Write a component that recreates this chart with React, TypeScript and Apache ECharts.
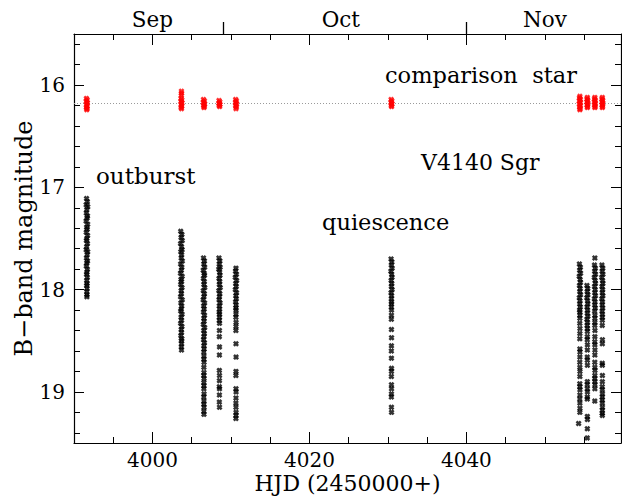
import React, { useEffect, useRef } from 'react';
import * as echarts from 'echarts';

// ---- axes ----
const X_MIN = 3990;
const X_MAX = 4059.7;
const Y_MIN = 15.5;
const Y_MAX = 19.5;
const xMajor = [4000, 4020, 4040];
const xMinor = [3995, 4005, 4010, 4015, 4025, 4030, 4035, 4045, 4050, 4055];
const yMajor = [16, 17, 18, 19];
const yMinor = [15.6, 15.8, 16.2, 16.4, 16.6, 16.8, 17.2, 17.4, 17.6, 17.8, 18.2, 18.4, 18.6, 18.8, 19.2, 19.4];
const monthNames = ['Sep', 'Oct', 'Nov'];
const monthLabelAt = [4000, 4024, 4050];
const monthBounds = [4009, 4040];
const compMag = 16.185;

// ---- V4140 Sgr, B magnitudes per night [HJD-2450000, mag] ----
const n1: number[][] = [
  [3991.60,17.11],[3991.70,17.14],[3991.55,17.17],[3991.75,17.19],[3991.63,17.22],[3991.57,17.25],[3991.72,17.28],[3991.66,17.30],[3991.54,17.33],[3991.74,17.36],[3991.61,17.39],[3991.69,17.41],[3991.56,17.44],[3991.73,17.47],[3991.64,17.50],[3991.58,17.52],[3991.71,17.55],[3991.62,17.58],[3991.55,17.61],[3991.74,17.63],[3991.67,17.66],[3991.59,17.69],[3991.72,17.72],[3991.63,17.74],[3991.57,17.77],[3991.70,17.80],[3991.65,17.83],[3991.60,17.85],[3991.69,17.88],[3991.62,17.91],[3991.67,17.94],[3991.61,17.96],[3991.66,17.99],[3991.63,18.02],[3991.65,18.05],[3991.64,18.07]
];
const n2: number[][] = [
  [4003.60,17.43],[4003.75,17.46],[4003.64,17.49],[4003.79,17.52],[4003.58,17.55],[4003.70,17.58],[4003.77,17.61],[4003.61,17.63],[4003.72,17.66],[4003.66,17.69],[4003.80,17.72],[4003.59,17.75],[4003.74,17.78],[4003.68,17.81],[4003.57,17.84],[4003.78,17.87],[4003.63,17.90],[4003.71,17.92],[4003.60,17.95],[4003.76,17.98],[4003.65,18.01],[4003.69,18.04],[4003.58,18.07],[4003.79,18.10],[4003.62,18.13],[4003.73,18.16],[4003.67,18.19],[4003.60,18.21],[4003.77,18.24],[4003.64,18.27],[4003.71,18.30],[4003.59,18.33],[4003.75,18.36],[4003.66,18.39],[4003.70,18.42],[4003.62,18.45],[4003.74,18.48],[4003.67,18.50],[4003.71,18.53],[4003.68,18.56],[4003.70,18.59]
];
const n3: number[][] = [
  [4006.50,17.69],[4006.62,17.72],[4006.54,17.75],[4006.65,17.78],[4006.47,17.81],[4006.58,17.84],[4006.63,17.86],[4006.49,17.89],[4006.60,17.92],[4006.55,17.95],[4006.66,17.98],[4006.48,18.01],[4006.61,18.04],[4006.56,18.07],[4006.46,18.10],[4006.64,18.13],[4006.52,18.16],[4006.59,18.19],[4006.50,18.22],[4006.63,18.25],[4006.55,18.28],[4006.58,18.31],[4006.48,18.34],[4006.65,18.37],[4006.53,18.40],[4006.60,18.43],[4006.56,18.46],[4006.51,18.49],[4006.62,18.52],[4006.55,18.55],[4006.58,18.58],[4006.54,18.61],
  [4006.56,18.65],[4006.55,18.68],[4006.57,18.71],[4006.55,18.76],[4006.56,18.81],[4006.54,18.84],[4006.57,18.87],[4006.55,18.91],[4006.56,18.94],[4006.55,18.97],[4006.57,19.02],[4006.54,19.05],[4006.56,19.09],[4006.55,19.12],[4006.57,19.15],[4006.55,19.19],[4006.56,19.22]
];
const n4: number[][] = [
  [4008.47,17.69],[4008.59,17.72],[4008.50,17.75],[4008.62,17.78],[4008.45,17.80],[4008.56,17.83],[4008.60,17.86],[4008.48,17.89],[4008.57,17.92],[4008.52,17.95],[4008.63,17.98],[4008.46,18.01],[4008.58,18.04],[4008.53,18.07],[4008.49,18.10],[4008.61,18.13],[4008.51,18.16],[4008.56,18.19],[4008.50,18.22],[4008.55,18.24],
  [4008.53,18.27],[4008.52,18.30],[4008.54,18.33],[4008.53,18.40],[4008.52,18.46],[4008.54,18.56],[4008.53,18.64],[4008.52,18.79],[4008.54,18.84],[4008.53,18.89],[4008.52,18.95],[4008.54,18.97],[4008.53,19.03],[4008.52,19.10],[4008.54,19.15]
];
const n5: number[][] = [
  [4010.64,17.79],
  [4010.58,17.82],[4010.70,17.85],[4010.55,17.88],[4010.72,17.91],[4010.61,17.94],[4010.67,17.97],[4010.56,18.00],[4010.71,18.03],[4010.62,18.06],[4010.68,18.09],[4010.59,18.12],[4010.66,18.15],[4010.62,18.18],[4010.65,18.20],
  [4010.64,18.24],[4010.63,18.27],[4010.65,18.32],[4010.64,18.36],[4010.63,18.40],[4010.64,18.53],[4010.65,18.66],[4010.64,18.80],[4010.63,18.84],[4010.64,18.97],[4010.65,19.00],[4010.64,19.06],[4010.63,19.11],[4010.64,19.15],[4010.65,19.20],[4010.64,19.23],[4010.63,19.26]
];
const n6: number[][] = [
  [4030.40,17.70],[4030.51,17.73],[4030.43,17.76],[4030.54,17.79],[4030.38,17.82],[4030.48,17.85],[4030.52,17.88],[4030.41,17.91],[4030.49,17.94],[4030.44,17.97],[4030.53,18.00],[4030.40,18.03],[4030.47,18.06],[4030.44,18.09],[4030.46,18.12],
  [4030.45,18.14],[4030.44,18.17],[4030.46,18.20],[4030.45,18.25],[4030.44,18.29],[4030.45,18.39],[4030.46,18.47],[4030.45,18.55],[4030.44,18.60],[4030.45,18.67],[4030.46,18.77],[4030.45,18.80],[4030.44,18.85],[4030.45,18.93],[4030.46,18.97],[4030.45,19.02],[4030.44,19.05],[4030.45,19.15],[4030.46,19.20]
];
const n7: number[][] = [
  [4054.40,17.75],[4054.52,17.78],[4054.43,17.81],[4054.55,17.84],[4054.38,17.87],[4054.49,17.90],[4054.53,17.93],[4054.41,17.96],[4054.50,17.99],[4054.45,18.02],[4054.54,18.05],[4054.39,18.08],[4054.48,18.11],[4054.44,18.14],[4054.51,18.17],[4054.42,18.20],[4054.47,18.22],[4054.46,18.25],
  [4054.46,18.28],[4054.45,18.33],[4054.47,18.38],[4054.46,18.43],[4054.45,18.48],[4054.46,18.58],[4054.47,18.61],[4054.46,18.66],[4054.45,18.71],[4054.46,18.76],[4054.47,18.80],[4054.46,18.85],[4054.45,18.92],[4054.46,18.95],[4054.47,18.98],[4054.46,19.03],[4054.45,19.07],[4054.46,19.11],[4054.47,19.16],[4054.46,19.20],[4054.30,19.31]
];
const n8: number[][] = [
  [4055.36,17.96],[4055.46,17.99],[4055.39,18.02],[4055.48,18.05],[4055.35,18.08],[4055.44,18.11],[4055.47,18.14],[4055.37,18.17],[4055.45,18.20],[4055.40,18.23],[4055.48,18.26],[4055.36,18.29],[4055.43,18.32],[4055.39,18.35],[4055.42,18.38],[4055.41,18.41],
  [4055.41,18.46],[4055.40,18.49],[4055.42,18.54],[4055.41,18.59],[4055.40,18.66],[4055.41,18.69],[4055.42,18.74],[4055.41,18.90],[4055.40,18.93],[4055.41,18.97],[4055.42,19.00],[4055.41,19.05],[4055.40,19.07],[4055.41,19.24],[4055.42,19.27],[4055.41,19.36],[4055.40,19.45]
];
const n9: number[][] = [
  [4056.37,17.69],
  [4056.32,17.76],[4056.43,17.79],[4056.34,17.82],[4056.45,17.85],[4056.30,17.88],[4056.40,17.91],[4056.44,17.94],[4056.33,17.97],[4056.41,18.00],[4056.36,18.03],[4056.44,18.06],[4056.31,18.09],[4056.39,18.12],[4056.35,18.15],[4056.42,18.18],[4056.34,18.21],[4056.38,18.25],[4056.37,18.28],
  [4056.37,18.32],[4056.36,18.35],[4056.38,18.40],[4056.37,18.46],[4056.36,18.51],[4056.37,18.54],[4056.38,18.59],[4056.37,18.64],[4056.36,18.71],[4056.37,18.76],[4056.38,18.79],[4056.37,18.84],[4056.36,18.87],[4056.37,18.90],[4056.38,18.93],[4056.37,18.97],[4056.36,19.09]
];
const n10: number[][] = [
  [4057.27,17.76],[4057.38,17.79],[4057.29,17.82],[4057.40,17.85],[4057.25,17.88],[4057.35,17.91],[4057.39,17.94],[4057.28,17.97],[4057.36,18.00],[4057.31,18.03],[4057.39,18.06],[4057.26,18.09],[4057.34,18.12],[4057.30,18.15],[4057.37,18.18],[4057.29,18.21],[4057.33,18.24],[4057.32,18.27],
  [4057.32,18.30],[4057.31,18.35],[4057.33,18.49],[4057.32,18.53],[4057.31,18.72],[4057.32,18.74],[4057.33,18.84],[4057.32,18.90],[4057.31,18.95],[4057.32,18.98],[4057.33,19.02],[4057.32,19.05],[4057.31,19.08],[4057.32,19.11],[4057.33,19.15],[4057.32,19.18],[4057.31,19.21],[4057.32,19.23]
];

// ---- comparison star per night [HJD-2450000, mag] ----
const c1: number[][] = [[3991.58,16.13],[3991.68,16.145],[3991.56,16.16],[3991.70,16.175],[3991.60,16.19],[3991.66,16.205],[3991.58,16.22],[3991.67,16.23],[3991.62,16.24]];
const c2: number[][] = [[4003.69,16.06],[4003.70,16.08],[4003.68,16.10],[4003.64,16.13],[4003.74,16.145],[4003.63,16.16],[4003.75,16.175],[4003.66,16.19],[4003.72,16.205],[4003.65,16.22],[4003.70,16.23]];
const c3: number[][] = [[4006.50,16.14],[4006.62,16.155],[4006.48,16.17],[4006.64,16.185],[4006.52,16.20],[4006.60,16.21],[4006.56,16.22]];
const c4: number[][] = [[4008.48,16.15],[4008.58,16.165],[4008.47,16.18],[4008.59,16.19],[4008.50,16.20],[4008.56,16.21]];
const c5: number[][] = [[4010.60,16.14],[4010.69,16.155],[4010.58,16.17],[4010.71,16.185],[4010.60,16.20],[4010.68,16.215],[4010.64,16.23]];
const c6: number[][] = [[4030.41,16.14],[4030.50,16.155],[4030.40,16.17],[4030.51,16.185],[4030.43,16.20],[4030.47,16.21]];
const c7: number[][] = [[4054.46,16.11],[4054.41,16.125],[4054.52,16.14],[4054.39,16.155],[4054.53,16.17],[4054.40,16.185],[4054.52,16.20],[4054.43,16.215],[4054.49,16.23],[4054.46,16.24]];
const c8: number[][] = [[4055.41,16.12],[4055.37,16.135],[4055.46,16.15],[4055.36,16.165],[4055.46,16.18],[4055.38,16.195],[4055.44,16.21],[4055.41,16.22]];
const c9: number[][] = [[4056.37,16.12],[4056.33,16.135],[4056.42,16.15],[4056.32,16.165],[4056.42,16.18],[4056.34,16.195],[4056.40,16.21],[4056.37,16.22]];
const c10: number[][] = [[4057.32,16.12],[4057.28,16.135],[4057.37,16.15],[4057.27,16.165],[4057.37,16.18],[4057.29,16.195],[4057.35,16.21],[4057.32,16.22]];

const targetNights = [n1, n2, n3, n4, n5, n6, n7, n8, n9, n10];
const compNights = [c1, c2, c3, c4, c5, c6, c7, c8, c9, c10];

const FONT = 'DejaVu Serif';
const CROSS = 'path://M0,3L3,0L5,2L7,0L10,3L8,5L10,7L7,10L5,8L3,10L0,7L2,5Z';
const INK = '#000';

export default function App() {
  const ref = useRef<HTMLDivElement>(null);
  useEffect(() => {
    if (!ref.current) return;
    const chart = echarts.init(ref.current, undefined, { renderer: 'svg' });
    const tickLine = { color: INK, width: 1 };
    const frameLine = { show: true, onZero: false, lineStyle: { color: INK, width: 1.2 } };
    const xBase: any = {
      type: 'value', min: X_MIN, max: X_MAX,
      splitLine: { show: false },
      axisLine: { show: false },
      axisTick: { show: false },
      axisLabel: { show: false },
    };
    const yBase: any = {
      type: 'value', min: Y_MIN, max: Y_MAX, inverse: true,
      splitLine: { show: false },
      axisLine: { show: false },
      axisTick: { show: false },
      axisLabel: { show: false },
    };
    const labelFont = { color: INK, fontFamily: FONT, fontSize: 20 };
    const annot = (text: string, x: number, y: number, size: number) => ({
      type: 'text', x, y, silent: true,
      style: { text, font: `${size}px "${FONT}"`, fill: INK, verticalAlign: 'middle' },
    });
    const option: any = {
      animation: false,
      backgroundColor: '#fff',
      grid: { left: 74, top: 34, width: 547, height: 409, containLabel: false },
      xAxis: [
        { ...xBase, position: 'bottom', axisLine: frameLine,
          axisTick: { show: true, inside: true, length: 6, customValues: xMinor, lineStyle: tickLine } },
        { ...xBase, position: 'bottom',
          axisTick: { show: true, inside: true, length: 11, customValues: xMajor, lineStyle: tickLine },
          axisLabel: { show: true, customValues: xMajor, margin: 7, ...labelFont,
            formatter: (v: number) => String(Math.round(v)) },
          name: 'HJD (2450000+)', nameLocation: 'middle', nameGap: 29, nameMoveOverlap: false,
          nameTextStyle: { color: INK, fontFamily: FONT, fontSize: 22 } },
        { ...xBase, position: 'top', axisLine: frameLine,
          axisTick: { show: true, inside: true, length: 6, customValues: xMinor, lineStyle: tickLine } },
        { ...xBase, position: 'top',
          axisTick: { show: true, inside: true, length: 11, customValues: xMajor, lineStyle: tickLine } },
        { ...xBase, position: 'top',
          axisTick: { show: true, inside: false, length: 12, customValues: monthBounds, lineStyle: { color: INK, width: 1.3 } },
          axisLabel: { show: true, customValues: monthLabelAt, margin: 4, color: INK, fontFamily: FONT, fontSize: 21.5,
            formatter: (v: number) => {
              const i = monthLabelAt.findIndex((m) => Math.abs(m - v) < 0.01);
              return i >= 0 ? monthNames[i] : '';
            } } },
      ],
      yAxis: [
        { ...yBase, position: 'left', axisLine: frameLine,
          axisTick: { show: true, inside: true, length: 6, customValues: yMinor, lineStyle: tickLine } },
        { ...yBase, position: 'left',
          axisTick: { show: true, inside: true, length: 10, customValues: yMajor, lineStyle: tickLine },
          axisLabel: { show: true, customValues: yMajor, margin: 9, ...labelFont,
            formatter: (v: number) => String(Math.round(v)) },
          name: 'B\u2212band magnitude', nameLocation: 'middle', nameGap: 38, nameMoveOverlap: false,
          nameTextStyle: { color: INK, fontFamily: FONT, fontSize: 24 } },
        { ...yBase, position: 'right', axisLine: frameLine,
          axisTick: { show: true, inside: true, length: 6, customValues: yMinor, lineStyle: tickLine } },
        { ...yBase, position: 'right',
          axisTick: { show: true, inside: true, length: 10, customValues: yMajor, lineStyle: tickLine } },
      ],
      series: [
        {
          type: 'scatter', name: 'comparison star', xAxisIndex: 0, yAxisIndex: 0,
          data: compNights.flat(), symbol: CROSS, symbolSize: 6,
          itemStyle: { color: '#ff0000' }, z: 3, silent: true,
          markLine: {
            silent: true, z: 1, symbol: ['none', 'none'], label: { show: false },
            lineStyle: { color: '#9a9a9a', type: [1, 2], width: 1 },
            data: [{ yAxis: compMag }],
          },
        },
        {
          type: 'scatter', name: 'V4140 Sgr', xAxisIndex: 0, yAxisIndex: 0,
          data: targetNights.flat(), symbol: CROSS, symbolSize: 6,
          itemStyle: { color: INK }, z: 3, silent: true,
        },
      ],
      graphic: [
        annot('comparison  star', 385, 75, 22.5),
        annot('V4140 Sgr', 421, 162, 22),
        annot('outburst', 96, 176, 23),
        annot('quiescence', 322, 222, 22.5),
      ],
    };
    chart.setOption(option);
    return () => chart.dispose();
  }, []);
  return <div ref={ref} style={{ position: 'fixed', left: 0, top: 0, width: 622, height: 502 }} />;
}
